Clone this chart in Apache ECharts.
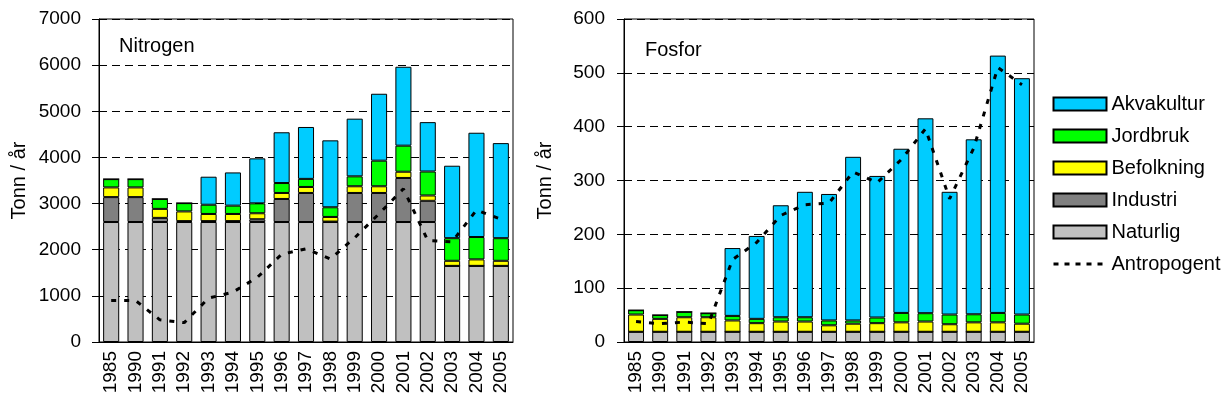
<!DOCTYPE html>
<html>
<head>
<meta charset="utf-8">
<script src="https://cdn.jsdelivr.net/npm/echarts@6/dist/echarts.min.js"></script>
<style>
    html, body { margin: 0; padding: 0; background: #fff; }
    #chart { width: 1228px; height: 410px; }
</style>
</head>
<body>
<div id="chart"></div>
<script>
    var years = ['1985','1990','1991','1992','1993','1994','1995','1996','1997','1998','1999','2000','2001','2002','2003','2004','2005'];

    // Nitrogen (tonn / år)
    var nNaturlig   = [2600,2600,2600,2600,2600,2600,2600,2600,2600,2600,2600,2600,2600,2600,1650,1650,1650];
    var nIndustri   = [540,540,90,20,20,20,60,500,630,10,630,630,955,460,0,0,0];
    var nBefolkning = [210,210,195,210,155,155,130,130,130,100,145,145,135,115,110,140,110];
    var nJordbruk   = [180,180,215,180,200,180,215,215,175,210,215,555,565,520,490,485,490];
    var nAkvakultur = [0,0,0,0,607,720,975,1100,1125,1450,1250,1450,1710,1070,1570,2260,2060];
    var nAntropogent = [900,900,480,420,950,1080,1400,1900,2020,1800,2260,2780,3320,2200,2170,2860,2660];

    // Fosfor (tonn / år)
    var fNaturlig   = [19,19,19,19,19,19,19,19,19,19,19,19,19,19,19,19,19];
    var fIndustri   = [0,0,0,0,0,0,0,0,0,0,0,0,0,0,0,0,0];
    var fBefolkning = [32,24,27,27,21,16,19,19,12,15,16,17.5,19,14,17.5,17.5,15];
    var fJordbruk   = [8,7,10,7.5,8.5,8,8,8,9,6,10.5,17.5,15.5,18,15,17.5,17];
    var fAkvakultur = [0,0,0,0,126,154,208,233,235,304,263,305,362,228,325,478,439];
    var fAntropogent = [38,34,37,34,153,185,235,255,258,316,296,339,396,266,360,510,478];

    var colors = {
        Akvakultur: '#00CCFF',
        Jordbruk: '#00FF00',
        Befolkning: '#FFFF00',
        Industri: '#808080',
        Naturlig: '#C0C0C0'
    };
    var font = "'Liberation Sans', Arial, sans-serif";

    function barSeries(name, data, idx, stack) {
        return {
            name: name,
            type: 'bar',
            stack: stack,
            xAxisIndex: idx,
            yAxisIndex: idx,
            barCategoryGap: '34%',
            data: data,
            itemStyle: { color: colors[name], borderColor: '#000', borderWidth: 1 }
        };
    }
    function lineSeries(data, idx) {
        return {
            name: 'Antropogent',
            type: 'line',
            xAxisIndex: idx,
            yAxisIndex: idx,
            data: data,
            symbol: 'none',
            z: 5,
            color: '#000',
            lineStyle: { color: '#000', width: 3, type: [5, 8] }
        };
    }
    function xAxis(idx) {
        return {
            type: 'category',
            gridIndex: idx,
            data: years,
            axisLine: { lineStyle: { color: '#000' } },
            axisTick: { length: 8, lineStyle: { color: '#000' } },
            axisLabel: { interval: 0, rotate: 90, margin: 9, color: '#000', fontSize: 19, fontFamily: font }
        };
    }
    function yAxis(idx, max, interval, gap, margin) {
        return {
            type: 'value',
            gridIndex: idx,
            min: 0,
            max: max,
            interval: interval,
            name: 'Tonn / år',
            nameLocation: 'middle',
            nameGap: gap,
            nameTextStyle: { color: '#000', fontSize: 20, fontFamily: font },
            axisLine: { show: true, lineStyle: { color: '#000' } },
            axisTick: { show: true, length: 7, lineStyle: { color: '#000' } },
            axisLabel: {
                color: '#000', fontSize: 19, fontFamily: font, margin: margin,
                formatter: function (v) { return String(v); }
            },
            splitLine: { show: true, lineStyle: { color: '#000', type: [8, 5] } }
        };
    }

    var option = {
        animation: false,
        backgroundColor: '#fff',
        title: [
            { text: 'Nitrogen', left: 114, top: 31, textStyle: { fontSize: 20, fontWeight: 'normal', color: '#000', fontFamily: font } },
            { text: 'Fosfor', left: 640, top: 35, textStyle: { fontSize: 20, fontWeight: 'normal', color: '#000', fontFamily: font } }
        ],
        legend: {
            orient: 'vertical',
            left: 1047,
            top: 89,
            itemWidth: 53,
            itemHeight: 13,
            itemGap: 12,
            textStyle: { color: '#000', fontSize: 20, lineHeight: 20, fontFamily: font },
            data: [
                { name: 'Akvakultur', icon: 'rect' },
                { name: 'Jordbruk', icon: 'rect' },
                { name: 'Befolkning', icon: 'rect' },
                { name: 'Industri', icon: 'rect' },
                { name: 'Naturlig', icon: 'rect' },
                { name: 'Antropogent', itemStyle: { opacity: 0 }, lineStyle: { color: '#000', width: 3, type: [5, 6] } }
            ]
        },
        grid: [
            { left: 99, top: 19, width: 414, height: 323, show: true, borderColor: '#000', borderWidth: 1 },
            { left: 624, top: 19, width: 410, height: 323, show: true, borderColor: '#000', borderWidth: 1 }
        ],
        xAxis: [xAxis(0), xAxis(1)],
        yAxis: [yAxis(0, 7000, 1000, 70, 18), yAxis(1, 600, 100, 69, 19)],
        series: [
            barSeries('Naturlig', nNaturlig, 0, 'n'),
            barSeries('Industri', nIndustri, 0, 'n'),
            barSeries('Befolkning', nBefolkning, 0, 'n'),
            barSeries('Jordbruk', nJordbruk, 0, 'n'),
            barSeries('Akvakultur', nAkvakultur, 0, 'n'),
            lineSeries(nAntropogent, 0),
            barSeries('Naturlig', fNaturlig, 1, 'f'),
            barSeries('Industri', fIndustri, 1, 'f'),
            barSeries('Befolkning', fBefolkning, 1, 'f'),
            barSeries('Jordbruk', fJordbruk, 1, 'f'),
            barSeries('Akvakultur', fAkvakultur, 1, 'f'),
            lineSeries(fAntropogent, 1)
        ]
    };

    echarts.init(document.getElementById('chart')).setOption(option);
</script>
</body>
</html>
